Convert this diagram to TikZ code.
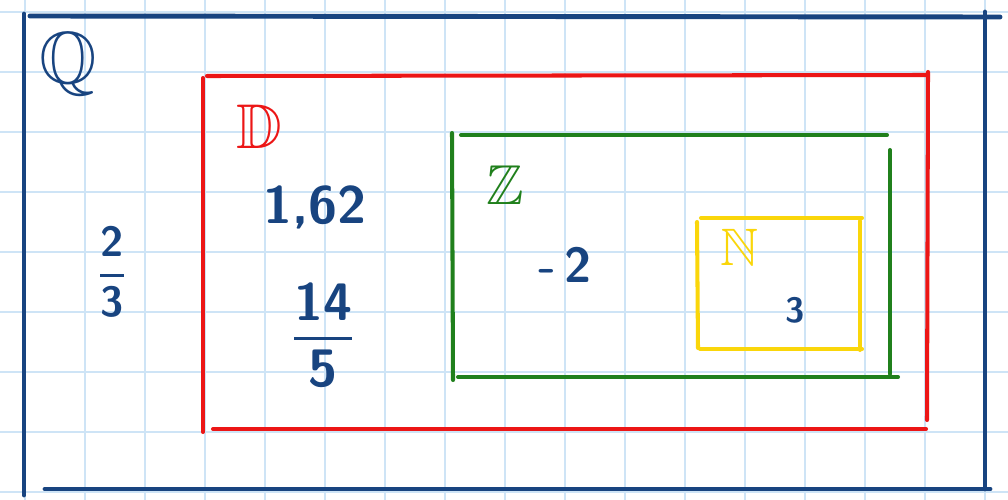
\documentclass[tikz,border=0pt]{standalone}
\usepackage{amsmath,amssymb}
\usepackage{fontspec}
\definecolor{penblue}{RGB}{24,68,128}
\definecolor{penred}{RGB}{236,22,22}
\definecolor{pengreen}{RGB}{32,128,28}
\definecolor{penyellow}{RGB}{250,214,10}
\definecolor{paperblue}{RGB}{206,228,246}

\begin{document}
\begin{tikzpicture}[x=0.02cm,y=-0.02cm,
  paperline/.style={paperblue, line width=0.6pt},
  qpen/.style={penblue, line width=2.8pt, line cap=round},
  dpen/.style={penred, line width=2.3pt, line cap=round},
  zpen/.style={pengreen, line width=2.3pt, line cap=round},
  npen/.style={penyellow, line width=2.3pt, line cap=round},
  num/.style={text=penblue, font=\sffamily\bfseries\fontsize{30}{32}\selectfont}]
\useasboundingbox (0,0) rectangle (1008,500);
\fill[white] (0,0) rectangle (1008,500);
% squared paper
\foreach \gx in {25,85,...,985} \draw[paperline] (\gx,0) -- (\gx,500);
\foreach \gy in {12,72,...,492} \draw[paperline] (0,\gy) -- (1008,\gy);
% Q
\draw[qpen] (24,14) -- (24,495);
\draw[qpen] (30,16) -- (1000,17);
\draw[qpen] (985,12) -- (985,489);
\draw[qpen] (45,489) -- (990,489);
\node[text=penblue, font=\fontsize{42}{44}\selectfont] (setQ) at (68,64) {$\mathbb{Q}$};
\node[num, font=\sffamily\bfseries\fontsize{24}{26}\selectfont] (twothirds) at (112,272) {$\genfrac{}{}{1.6pt}{0}{\textsf{2}}{\textsf{3}}$};
% D
\draw[dpen] (203,78) -- (203,432);
\draw[dpen] (207,76) -- (928,75);
\draw[dpen] (928,72) -- (927,420);
\draw[dpen] (213,429) -- (926,429);
\node[text=penred, font=\fontsize{36}{38}\selectfont] (setD) at (259,127) {$\mathbb{D}$};
\node[num] (dec) at (315,207) {1,62};
\node[num] (fourteen) at (323,335) {$\genfrac{}{}{1.8pt}{0}{\textsf{14}}{\textsf{5}}$};
% Z
\draw[zpen] (452,133) -- (453,380);
\draw[zpen] (461,135) -- (887,135);
\draw[zpen] (890,150) -- (890,374);
\draw[zpen] (458,377) -- (898,377);
\node[text=pengreen, font=\fontsize{32}{34}\selectfont] (setZ) at (505,185) {$\mathbb{Z}$};
\node[num, font=\sffamily\bfseries\fontsize{28}{30}\selectfont] (minustwo) at (565,265) {-\,2};
% N
\draw[npen] (697,222) -- (698,348);
\draw[npen] (701,218) -- (862,218);
\draw[npen] (860,221) -- (860,350);
\draw[npen] (700,349) -- (862,349);
\node[text=penyellow, font=\fontsize{30}{32}\selectfont] (setN) at (740,247) {$\mathbb{N}$};
\node[num, font=\sffamily\bfseries\fontsize{20}{22}\selectfont] (three) at (795,310) {3};
\end{tikzpicture}
\end{document}
